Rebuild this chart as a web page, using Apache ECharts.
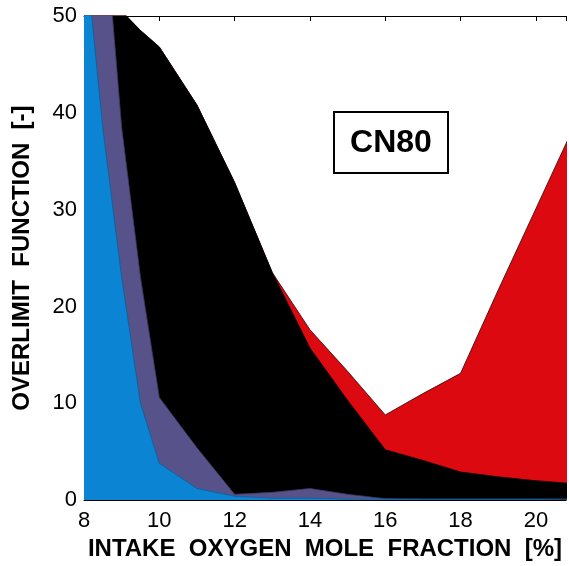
<!DOCTYPE html>
<html>
<head>
<meta charset="utf-8">
<script src="https://cdn.jsdelivr.net/npm/echarts@6/dist/echarts.min.js"></script>
<style>html,body{margin:0;padding:0;background:#fff}#c{width:569px;height:566px}</style>
</head>
<body>
<div id="c"></div>
<script>
// Intake O2 mole fraction [%]
const xValues = [8, 8.5, 9, 9.5, 10, 11, 12, 13, 14, 15, 16, 17, 18, 19, 20, 21];
// Cumulative boundaries (top edge of each stacked layer)
const blueTop   = [58, 38.4, 23, 10, 3.8, 1.2, 0.4, 0.2, 0.2, 0.1, 0.1, 0.1, 0.1, 0.1, 0.1, 0.1];
const purpleTop = [75, 62, 38.5, 23, 10.6, 5.4, 0.6, 0.8, 1.2, 0.6, 0.15, 0.1, 0.1, 0.1, 0.1, 0.1];
const blackTop  = [80, 55, 50.5, 48.5, 46.8, 40.8, 32.8, 23.5, 15.7, 10.3, 5.2, 4.1, 2.9, 2.4, 2.0, 1.7];
const redTop    = [80, 55, 50.5, 48.5, 46.8, 40.8, 32.8, 23.5, 17.6, 13.3, 8.8, 11.0, 13.1, 21.7, 30.1, 38.5];
const xTicks = [8, 10, 12, 14, 16, 18, 20];
const yTicks = [0, 10, 20, 30, 40, 50];
const annotation = 'CN80';

const pairs = arr => xValues.map((x, i) => [x, arr[i]]);
const font = 'Liberation Sans, Arial, Helvetica, sans-serif';

function mk(name, arr, color, edge) {
  return {
    name, type: 'line', data: pairs(arr), showSymbol: false, symbol: 'none',
    clip: true, smooth: false,
    lineStyle: { color: edge, width: 0.8 },
    areaStyle: { color: color, opacity: 1 },
    emphasis: { disabled: true }, animation: false
  };
}

const chart = echarts.init(document.getElementById('c'), null, { renderer: 'canvas' });
chart.setOption({
  animation: false,
  backgroundColor: '#fff',
  grid: { left: 84, right: 0, top: 16, bottom: 63, containLabel: false },
  xAxis: [{
    type: 'value', min: 8, max: 20.8, interval: 2,
    name: 'INTAKE  OXYGEN  MOLE  FRACTION  [%]',
    nameLocation: 'middle', nameGap: 36,
    nameTextStyle: { fontFamily: font, fontWeight: 'bold', fontSize: 24, color: '#000' },
    axisLine: { show: true, lineStyle: { color: '#000', width: 1 } },
    axisTick: { show: true, inside: true, length: 5, lineStyle: { color: '#000' } },
    axisLabel: { fontFamily: font, fontSize: 22, color: '#000', margin: 10,
      formatter: v => xTicks.includes(v) ? String(v) : '' },
    splitLine: { show: false }
  }, {
    type: 'value', position: 'top', min: 8, max: 20.8, interval: 2,
    axisLine: { show: true, lineStyle: { color: '#000', width: 1 } },
    axisTick: { show: true, inside: true, length: 5, lineStyle: { color: '#000' } },
    axisLabel: { show: false }, splitLine: { show: false }
  }],
  yAxis: [{
    type: 'value', min: 0, max: 50, interval: 10,
    name: 'OVERLIMIT  FUNCTION  [-]',
    nameLocation: 'middle', nameGap: 50, nameRotate: 90,
    nameTextStyle: { fontFamily: font, fontWeight: 'bold', fontSize: 24, color: '#000' },
    axisLine: { show: true, lineStyle: { color: '#000', width: 1 } },
    axisTick: { show: true, inside: true, length: 5, lineStyle: { color: '#000' } },
    axisLabel: { fontFamily: font, fontSize: 22, color: '#000', margin: 7,
      formatter: v => yTicks.includes(v) ? String(v) : '' },
    splitLine: { show: false }
  }],
  series: [
    mk('red', redTop, '#dc0a10', '#300'),
    mk('black', blackTop, '#000000', '#000'),
    mk('purple', purpleTop, '#57528a', '#3a3760'),
    mk('blue', blueTop, '#0b84d4', '#0a5f99')
  ],
  graphic: [{
    type: 'group', left: 333, top: 111,
    children: [
      { type: 'rect', shape: { x: 0, y: 0, width: 114, height: 61 },
        style: { fill: '#fff', stroke: '#000', lineWidth: 2 } },
      { type: 'text', x: 57, y: 31,
        style: { text: annotation, fontFamily: font, fontWeight: 'bold', fontSize: 32,
          fill: '#000', align: 'center', verticalAlign: 'middle' } }
    ]
  }]
});
</script>
</body>
</html>
